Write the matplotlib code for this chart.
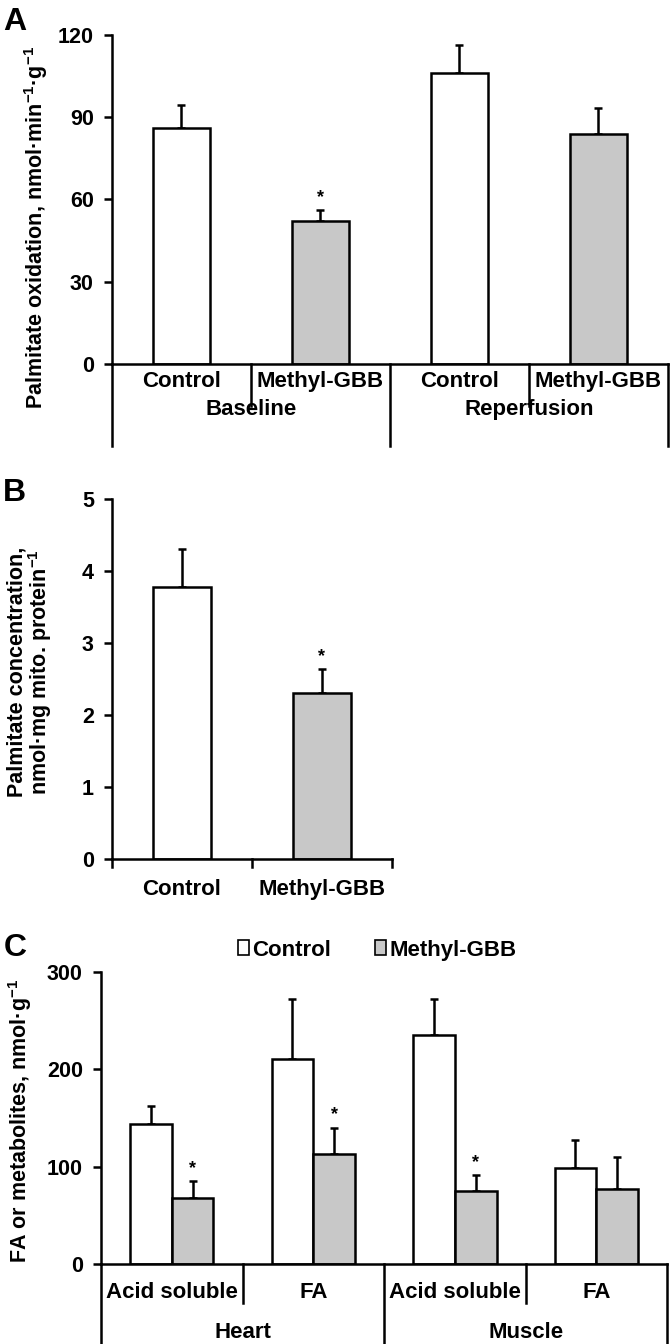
import numpy as np
import matplotlib
matplotlib.use("Agg")
import matplotlib.pyplot as plt
from matplotlib.patches import Patch

# data
a_cats = ["Control", "Methyl-GBB", "Control", "Methyl-GBB"]
a_groups = ["Baseline", "Reperfusion"]
a_vals = [86, 52, 106, 84]
a_err = [8.5, 4, 10.5, 9.5]
a_star = [False, True, False, False]

b_cats = ["Control", "Methyl-GBB"]
b_vals = [3.78, 2.31]
b_err = [0.52, 0.33]
b_star = [False, True]

c_cats = ["Acid soluble", "FA", "Acid soluble", "FA"]
c_groups = ["Heart", "Muscle"]
c_control = [144, 211, 235, 99]
c_control_err = [18, 61, 37, 28]
c_methyl = [68, 113, 75, 77]
c_methyl_err = [17, 27, 16, 33]
c_star = [True, True, True, False]

plt.rcParams['font.family'] = ['Liberation Sans', 'DejaVu Sans']
plt.rcParams['font.weight'] = 'bold'
plt.rcParams['axes.labelweight'] = 'bold'
plt.rcParams['mathtext.fontset'] = 'custom'
plt.rcParams['mathtext.rm'] = 'Liberation Sans:bold'
plt.rcParams['mathtext.default'] = 'rm'

GRAY = "#c8c8c8"
LW = 1.8
CAT_FS = 16
TICK_FS = 15.5
YLAB_FS = 15.5

fig = plt.figure(figsize=(6.7, 13.44), dpi=100)


def style_axis(ax):
    ax.spines['top'].set_visible(False)
    ax.spines['right'].set_visible(False)
    ax.spines['left'].set_linewidth(LW)
    ax.spines['bottom'].set_linewidth(LW)
    ax.tick_params(axis='y', length=6, width=LW, labelsize=TICK_FS, direction='out', pad=7)
    ax.tick_params(axis='x', length=0, labelbottom=False)


def bars(ax, x, vals, errs, color, width):
    ax.bar(x, vals, width=width, color=color, edgecolor='black', linewidth=LW, zorder=2)
    ax.errorbar(x, vals, yerr=[np.zeros(len(vals)), errs], fmt='none', ecolor='black',
                elinewidth=LW, capsize=3, capthick=LW, zorder=1)


def stars(ax, x, vals, errs, flags):
    for xi, v, e, f in zip(x, vals, errs, flags):
        if f:
            ax.annotate("*", (xi, v + e), xytext=(0, 3), textcoords='offset points',
                        ha='center', va='bottom', fontsize=13)


def separators(ax, n, inner_len, outer_len, group_every):
    trans = ax.get_xaxis_transform()
    for i in range(n + 1):
        xb = i - 0.5
        ln = outer_len if i % group_every == 0 else inner_len
        ax.plot([xb, xb], [0, ln], color='black', lw=LW, transform=trans, clip_on=False)


# ---- panel A ----
axA = fig.add_axes([0.167, 0.7292, 0.830, 0.2448])
xa = np.arange(len(a_cats))
colors_a = ['white', GRAY, 'white', GRAY]
bars(axA, xa, a_vals, a_err, colors_a, 0.41)
stars(axA, xa, a_vals, a_err, a_star)
axA.set_xlim(-0.5, len(a_cats) - 0.5)
axA.set_ylim(0, 120)
axA.set_yticks([0, 30, 60, 90, 120])
style_axis(axA)
separators(axA, len(a_cats), -0.128, -0.25, 2)
trA = axA.get_xaxis_transform()
for xi, lab in zip(xa, a_cats):
    axA.text(xi, -0.052, lab, transform=trA, ha='center', va='center', fontsize=CAT_FS)
for gi, g in enumerate(a_groups):
    axA.text(2 * gi + 0.5, -0.137, g, transform=trA, ha='center', va='center', fontsize=CAT_FS)
axA.set_ylabel("Palmitate oxidation, nmol·min$^{-1}$·g$^{-1}$", fontsize=YLAB_FS)
axA.yaxis.set_label_coords(-0.112, 0.415)
fig.text(0.005, 0.995, "A", fontsize=23, fontweight='bold', va='top')

# ---- panel B ----
axB = fig.add_axes([0.167, 0.3609, 0.418, 0.2679])
xb = np.arange(len(b_cats))
bars(axB, xb, b_vals, b_err, ['white', GRAY], 0.41)
stars(axB, xb, b_vals, b_err, b_star)
axB.set_xlim(-0.5, len(b_cats) - 0.5)
axB.set_ylim(0, 5)
axB.set_yticks([0, 1, 2, 3, 4, 5])
style_axis(axB)
separators(axB, len(b_cats), -0.022, -0.022, 1)
trB = axB.get_xaxis_transform()
for xi, lab in zip(xb, b_cats):
    axB.text(xi, -0.086, lab, transform=trB, ha='center', va='center', fontsize=CAT_FS)
axB.set_ylabel("Palmitate concentration,\nnmol·mg mito. protein$^{-1}$", fontsize=YLAB_FS,
               linespacing=0.95)
axB.yaxis.set_label_coords(-0.205, 0.52)
fig.text(0.005, 0.644, "B", fontsize=23, fontweight='bold', va='top')

# ---- panel C ----
axC = fig.add_axes([0.1507, 0.0595, 0.845, 0.2173])
xc = np.arange(len(c_cats))
w = 0.295
bars(axC, xc - w / 2, c_control, c_control_err, 'white', w)
bars(axC, xc + w / 2, c_methyl, c_methyl_err, GRAY, w)
stars(axC, xc + w / 2, c_methyl, c_methyl_err, c_star)
axC.set_xlim(-0.5, len(c_cats) - 0.5)
axC.set_ylim(0, 300)
axC.set_yticks([0, 100, 200, 300])
style_axis(axC)
separators(axC, len(c_cats), -0.134, -0.28, 2)
trC = axC.get_xaxis_transform()
for xi, lab in zip(xc, c_cats):
    axC.text(xi, -0.096, lab, transform=trC, ha='center', va='center', fontsize=CAT_FS)
for gi, g in enumerate(c_groups):
    axC.text(2 * gi + 0.5, -0.233, g, transform=trC, ha='center', va='center', fontsize=CAT_FS)
axC.set_ylabel("FA or metabolites, nmol·g$^{-1}$", fontsize=YLAB_FS)
axC.yaxis.set_label_coords(-0.118, 0.49)
fig.text(0.005, 0.306, "C", fontsize=23, fontweight='bold', va='top')

handles = [Patch(facecolor='white', edgecolor='black', linewidth=1.2, label='Control'),
           Patch(facecolor=GRAY, edgecolor='black', linewidth=1.2, label='Methyl-GBB')]
fig.legend(handles=handles, loc='center', bbox_to_anchor=(0.563, 0.293), ncol=2,
           frameon=False, fontsize=CAT_FS, handlelength=0.5, handleheight=0.65,
           handletextpad=0.12, columnspacing=2.0)

fig.savefig("out.png", dpi=100)
